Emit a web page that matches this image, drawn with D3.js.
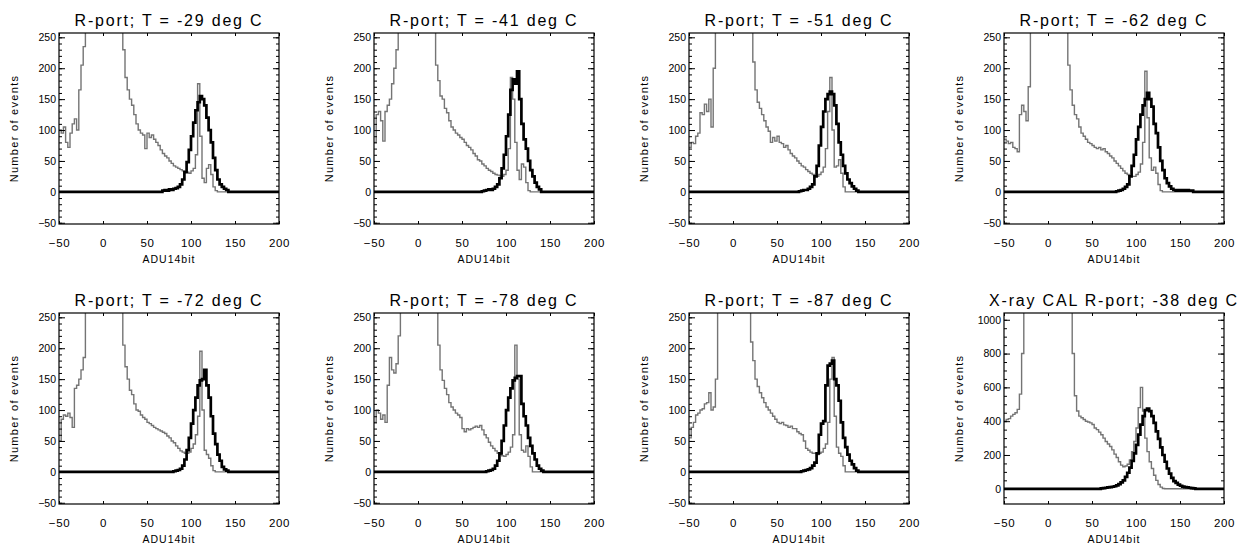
<!DOCTYPE html>
<html><head><meta charset="utf-8">
<script src="https://cdn.jsdelivr.net/npm/d3@7"></script>
<style>body{margin:0;background:#fff}</style>
</head><body>
<svg id="chart" width="1247" height="551"></svg>
<script>
// ---------- data ----------
const titles = [
  "R-port; T = -29 deg C", "R-port; T = -41 deg C", "R-port; T = -51 deg C", "R-port; T = -62 deg C",
  "R-port; T = -72 deg C", "R-port; T = -78 deg C", "R-port; T = -87 deg C", "X-ray CAL R-port; -38 deg C"
];
const xLabel = "ADU14bit";
const yLabel = "Number of events";
const xTicks = [-50, 0, 50, 100, 150, 200];
const yTicksSmall = [-50, 0, 50, 100, 150, 200, 250];
const yTicksLarge = [0, 200, 400, 600, 800, 1000];
const binWidth = 2.5;
const grayStart = -50;   // first bin edge of grey histograms
const blackStart = 60;   // first bin edge of black histograms

// grey histograms (bins of 2.5 ADU from -50); values above the frame are off-scale
const gray1 = [100,95,105,80,72,95,110,118,100,165, 205,235,420,900,2000,4000,6000,8000,9000,9500,
  9500,9000,8000,6000,4000,2000,1000,500,300,230, 185,165,150,140,125,110,100,95,92,70,
  95,88,92,85,80,75,68,62,58,55, 50,46,42,40,38,36,34,33,32,30,
  34,38,60,175,90,22,15,38,44,28, 8,2,0,0,0,0];
const gray2 = [80,125,130,115,82,130,140,150,175,200, 230,280,600,900,2000,4000,6000,8000,9000,9500,
  9500,9000,8000,6000,4000,2000,1000,400,205,180, 155,150,135,128,115,105,100,95,92,88,
  85,80,75,72,68,62,58,52,50,45, 42,38,35,33,30,28,27,26,25,28,
  35,70,185,150,80,35,20,45,40,15, 2,0,0,0,0,0];
const gray3 = [72,80,78,90,95,128,125,142,130,150, 105,200,260,600,2000,4000,6000,8000,9000,9500,
  9500,9000,8000,6000,4000,2000,1000,500,300,210, 165,145,135,125,115,105,98,80,88,82,
  90,80,78,72,75,68,62,58,55,50, 46,42,40,36,33,30,28,26,25,28,
  32,40,70,130,185,100,40,42,52,30, 8,0,0,0,0,0];
const gray4 = [85,82,78,80,72,70,65,125,140,130, 115,170,280,700,2000,4000,6000,8000,9000,9500,
  9500,9000,8000,6000,4000,2000,1000,500,320,205, 165,140,125,118,105,95,90,85,80,78,
  75,72,70,72,68,70,65,62,58,55, 50,46,42,38,34,30,28,26,25,25,
  28,32,45,80,195,120,55,35,40,30, 12,2,0,0,0,0];
const gray5 = [50,85,92,90,95,88,72,135,140,150, 165,185,500,900,2000,4000,6000,8000,9000,9500,
  9500,9000,8000,6000,4000,2000,1000,500,300,205, 170,150,132,125,110,100,98,92,88,85,
  80,78,75,72,70,68,66,64,62,58, 55,50,47,42,38,34,32,30,30,32,
  38,45,60,90,195,100,35,28,22,10, 2,0,0,0,0,0];
const gray6 = [80,100,95,85,92,80,140,185,165,160, 175,220,450,900,2000,4000,6000,8000,9000,9500,
  9500,9000,8000,6000,4000,2000,1000,500,300,205, 165,148,135,125,112,105,100,95,92,88,
  70,65,70,68,70,72,74,72,75,68, 60,55,48,42,38,34,30,28,26,25,
  28,32,40,60,205,150,60,35,32,42, 25,8,0,0,0,0];
const gray7 = [55,72,80,92,95,100,102,110,112,128, 100,105,150,400,2000,4000,6000,8000,9000,9500,
  9500,9000,8000,6000,4000,2000,1000,400,210,180, 150,138,128,120,112,105,100,95,90,85,
  80,78,80,76,75,72,74,70,70,65, 62,60,50,38,35,32,30,30,28,30,
  32,38,45,80,150,185,90,40,30,25, 10,0,0,0,0,0];
const gray8 = [400,410,415,430,440,450,470,560,800,2000, 5000,9000,15000,20000,25000,30000,32000,33000,33000,32000,
  30000,25000,20000,15000,10000,7000,5000,4000,3000,2000, 1500,800,550,460,430,420,410,400,395,390,
  380,360,350,335,320,300,280,265,250,230, 205,185,160,140,130,135,145,170,220,280,
  360,480,600,460,300,220,160,120,80,50, 25,10,2,0,0,0];

// black histograms (bins of 2.5 ADU from 60)
const black1 = [0,0,0,2,3,2,4,3,5,6, 8,12,20,32,48,68,90,112,132,145,
  155,150,140,120,100,80,55,35,20,12, 8,5,3,0,0,0,0,0,0,0, 0,0,0,0];
const black2 = [0,0,0,0,0,1,2,3,4,3, 5,8,12,22,38,60,90,125,165,182,
  175,195,150,110,85,70,50,35,25,15, 8,4,0,0,0,0,0,0,0,0, 0,0,0,0];
const black3 = [0,0,0,0,0,0,1,2,3,3, 5,8,12,25,42,75,105,130,150,158,
  162,158,140,110,80,60,42,30,20,14, 9,5,2,0,0,0,0,0,0,0, 0,0,0,0];
const black4 = [0,0,0,0,0,0,0,1,2,3, 5,8,12,25,42,60,85,105,125,140,
  150,160,150,138,110,95,72,50,35,22, 14,9,5,3,2,3,2,3,2,3, 2,2,0,0];
const black5 = [0,0,0,0,0,0,0,0,1,2, 3,5,10,20,35,55,78,100,120,140,
  148,150,165,140,120,90,62,45,28,18, 8,4,2,0,0,0,0,0,0,0, 0,0,0,0];
const black6 = [0,0,0,0,0,0,0,1,2,3, 5,10,18,30,50,75,100,120,135,148,
  152,155,155,110,90,75,55,42,30,20, 10,5,2,0,0,0,0,0,0,0, 0,0,0,0];
const black7 = [0,0,0,0,0,0,0,1,2,3, 4,6,10,15,30,60,78,82,140,172,
  175,180,150,140,115,80,55,40,28,18, 12,6,2,0,0,0,0,0,0,0, 0,0,0,0];
const black8 = [2,4,6,8,10,12,15,20,28,38, 50,70,95,125,165,210,260,320,380,430,
  465,475,460,430,390,340,295,245,200,160, 120,90,65,45,35,25,18,13,10,8, 6,4,2,0];

const grays = [gray1, gray2, gray3, gray4, gray5, gray6, gray7, gray8];
const blacks = [black1, black2, black3, black4, black5, black6, black7, black8];
const yDomains = [[-52,257],[-52,257],[-52,257],[-52,257],[-52,257],[-52,257],[-52,257],[-90,1040]];
const xDomain = [-50, 200];

// ---------- layout ----------
const lefts = [59, 374, 689, 1004];
const tops = [33, 313];
const pw = 220, ph = 191;

const svg = d3.select("#chart");
const font = "Liberation Sans, Arial, sans-serif";

grays.forEach((g, i) => {
  const left = lefts[i % 4], top = tops[Math.floor(i / 4)];
  const gp = svg.append("g").attr("transform", `translate(${left},${top})`);
  const x = d3.scaleLinear().domain(xDomain).range([0, pw]);
  const y = d3.scaleLinear().domain(yDomains[i]).range([ph, 0]);
  const big = i === 7;
  const yt = big ? yTicksLarge : yTicksSmall;
  const yMinorStep = big ? 50 : 10;

  gp.append("clipPath").attr("id", "clip" + i)
    .append("rect").attr("width", pw).attr("height", ph);

  const line = d3.line().x(d => x(d[0])).y(d => y(d[1])).curve(d3.curveStepAfter);

  const gPts = g.map((v, k) => [grayStart + k * binWidth, v]);
  gPts.push([xDomain[1], g[g.length - 1]]);
  const b = blacks[i];
  const bPts = [[xDomain[0], 0]].concat(b.map((v, k) => [blackStart + k * binWidth, v]));
  bPts.push([xDomain[1], b[b.length - 1]]);

  const plot = gp.append("g").attr("clip-path", `url(#clip${i})`);
  plot.append("path").datum(gPts).attr("d", line)
    .attr("fill", "none").attr("stroke", "#747474").attr("stroke-width", 1.4);
  plot.append("path").datum(bPts).attr("d", line)
    .attr("fill", "none").attr("stroke", "#000").attr("stroke-width", 2.7);

  // minor ticks on y only
  const yMinor = d3.range(Math.ceil(yDomains[i][0] / yMinorStep) * yMinorStep, yDomains[i][1], yMinorStep);
  [[d3.axisLeft(y), null], [d3.axisRight(y), `translate(${pw},0)`]].forEach(([ax, tr]) => {
    const a = gp.append("g").call(ax.tickValues(yMinor).tickSizeInner(-3).tickSizeOuter(0).tickFormat(""));
    if (tr) a.attr("transform", tr);
    a.select(".domain").remove();
  });

  // major ticks + labels
  const xb = gp.append("g").attr("transform", `translate(0,${ph})`)
    .call(d3.axisBottom(x).tickValues(xTicks).tickSizeInner(-3).tickSizeOuter(0).tickPadding(15).tickFormat(d3.format("d")));
  xb.selectAll("text").attr("font-family", font).attr("font-size", 11.5).attr("letter-spacing", 0.6).attr("fill", "#000");
  const yl = gp.append("g")
    .call(d3.axisLeft(y).tickValues(yt).tickSizeInner(-6).tickSizeOuter(0).tickPadding(3).tickFormat(d3.format("d")));
  yl.selectAll("text").attr("font-family", font).attr("font-size", 10.5).attr("fill", "#000");
  const xtp = gp.append("g")
    .call(d3.axisTop(x).tickValues(xTicks).tickSizeInner(-3).tickSizeOuter(0).tickFormat(""));
  const yr = gp.append("g").attr("transform", `translate(${pw},0)`)
    .call(d3.axisRight(y).tickValues(yt).tickSizeInner(-6).tickSizeOuter(0).tickFormat(""));
  [xb, yl, xtp, yr].forEach(a => a.select(".domain").remove());

  gp.append("rect").attr("width", pw).attr("height", ph)
    .attr("fill", "none").attr("stroke", "#000").attr("stroke-width", 1.2);

  gp.append("text").attr("x", pw / 2).attr("y", -7).attr("text-anchor", "middle")
    .attr("font-family", font).attr("font-size", 16).attr("letter-spacing", 1.8)
    .text(titles[i]);
  gp.append("text").attr("x", pw / 2).attr("y", ph + 39).attr("text-anchor", "middle")
    .attr("font-family", font).attr("font-size", 10.5).attr("letter-spacing", 1)
    .text(xLabel);
  gp.append("text").attr("transform", `translate(-41,${ph / 2}) rotate(-90)`).attr("text-anchor", "middle")
    .attr("font-family", font).attr("font-size", 11).attr("letter-spacing", 1.3)
    .text(yLabel);
});
</script>
</body></html>
